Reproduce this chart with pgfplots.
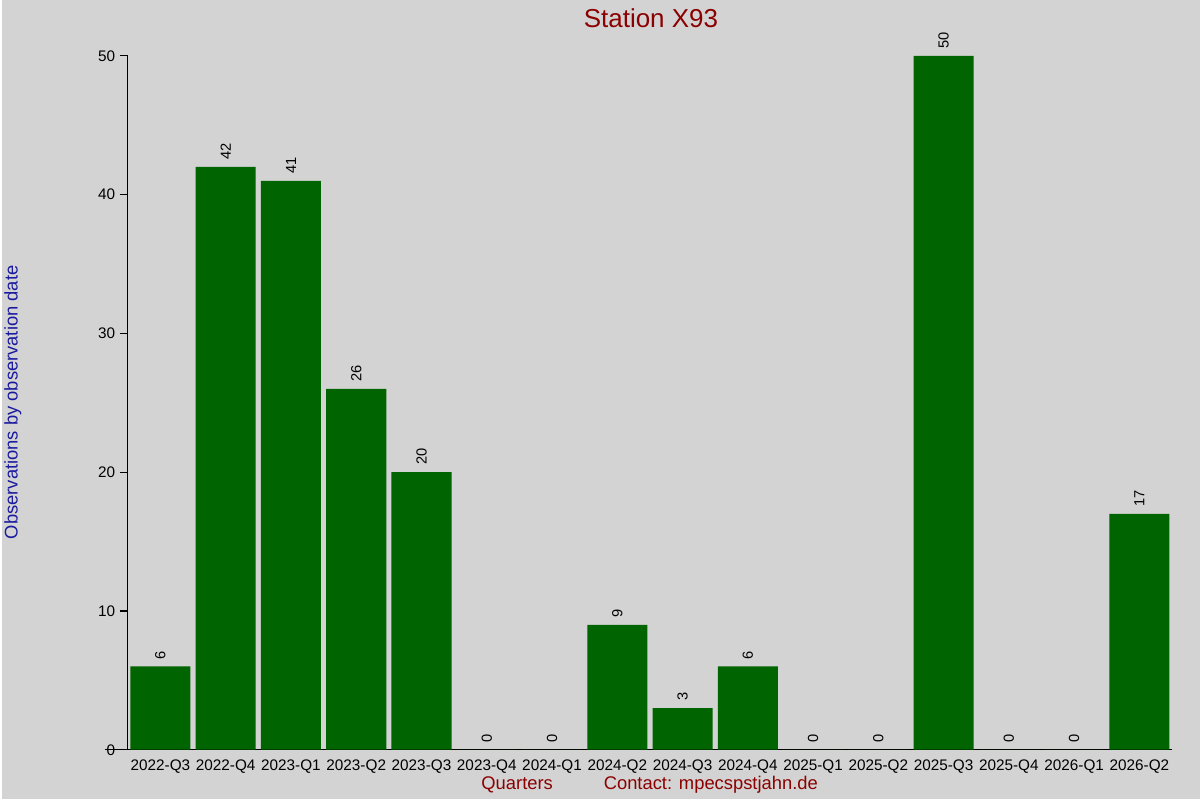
\documentclass[border=0pt]{standalone}
\usepackage{pgfplots}
\pgfplotsset{compat=1.18}
\usepackage{fontspec}
\setmainfont{Liberation Sans}
\definecolor{bg}{HTML}{D3D3D3}
\definecolor{bargreen}{HTML}{006400}
\definecolor{titlered}{HTML}{8B0000}
\definecolor{ylab}{HTML}{1A1AA0}

\begin{document}
\begin{tikzpicture}[x=0.75pt,y=0.75pt]
% page background, 1200 x 800 px
\fill[bg] (0,0) rectangle (1200,800);
\begin{axis}[
    at={(94.5pt,36.75pt)}, anchor=south west,
    scale only axis,
    width=784.5pt, height=521.25pt,
    xmin=-0.5, xmax=15.5,
    ymin=0, ymax=50,
    axis x line*=bottom,
    axis y line*=left,
    axis line style={black, line width=0.9pt},
    xtick=data,
    xticklabels={2022-Q3,2022-Q4,2023-Q1,2023-Q2,2023-Q3,2023-Q4,2024-Q1,2024-Q2,2024-Q3,2024-Q4,2025-Q1,2025-Q2,2025-Q3,2025-Q4,2026-Q1,2026-Q2},
    x tick label style={font=\fontsize{11.5}{13}\selectfont, yshift=2pt},
    major x tick style={draw=none},
    ytick={0,10,20,30,40,50},
    y tick label style={font=\fontsize{11.5}{13}\selectfont},
    ytick style={black, line width=0.8pt},
    tick align=outside,
    major tick length=6pt,
    /pgf/number format/assume math mode=true,
    ybar, bar width=0.92,
    bar shift=0pt,
    nodes near coords,
    every node near coord/.append style={rotate=90, anchor=west, font=\fontsize{11}{13}\selectfont, xshift=2pt},
    clip=false,
]
\addplot[fill=bargreen, draw=none] coordinates {
(0,6) (1,42) (2,41) (3,26) (4,20) (5,0) (6,0) (7,9)
(8,3) (9,6) (10,0) (11,0) (12,50) (13,0) (14,0) (15,17)
};
\end{axis}
% x axis line runs a little past the y axis
\draw[black, line width=0.9pt] (103,49) -- (126,49);
% titles and labels
\node[font=\fontsize{19.5}{22}\selectfont, text=titlered] at (650,782) {Station X93};
\node[font=\fontsize{13.8}{16}\selectfont, text=titlered] at (516,14) {Quarters};
\node[font=\fontsize{13.8}{16}\selectfont, text=titlered] at (710,14) {Contact: mpecspstjahn.de};
\node[font=\fontsize{13.8}{16}\selectfont, text=ylab, rotate=90] at (11,397) {Observations by observation date};
\end{tikzpicture}
\end{document}
